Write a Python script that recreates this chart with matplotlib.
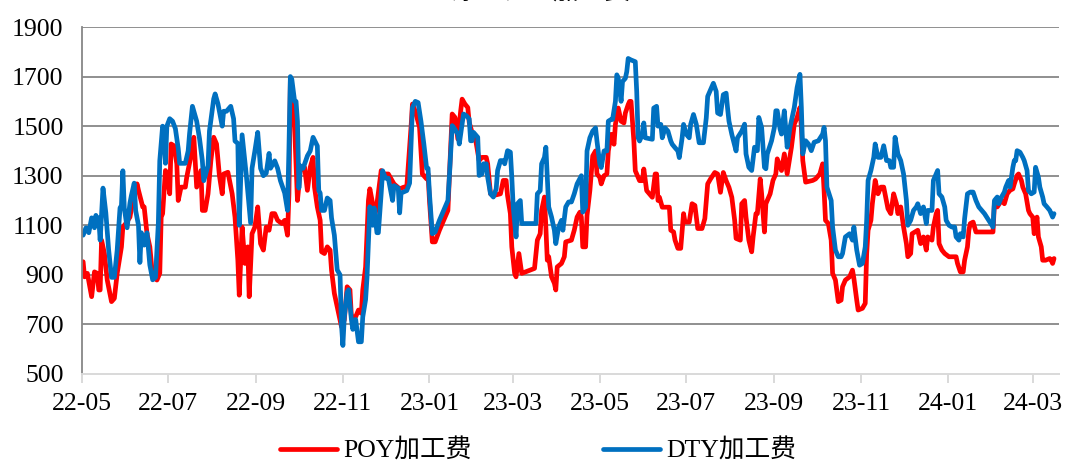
import matplotlib
matplotlib.use("Agg")
import matplotlib.pyplot as plt
import matplotlib.dates as mdates
import pandas as pd

# ---- data -------------------------------------------------------------
title = "涤纶长丝加工费"
series_labels = ["POY加工费", "DTY加工费"]
y_ticks = [500, 700, 900, 1100, 1300, 1500, 1700, 1900]

poy_dates = [
    "22-05-02", "22-05-03", "22-05-05", "22-05-08", "22-05-10", "22-05-12", "22-05-13", "22-05-14",
    "22-05-15", "22-05-17", "22-05-19", "22-05-22", "22-05-24", "22-05-26", "22-05-29", "22-05-30",
    "22-06-01", "22-06-04", "22-06-06", "22-06-09", "22-06-10", "22-06-13", "22-06-14", "22-06-16",
    "22-06-18", "22-06-20", "22-06-23", "22-06-25", "22-06-26", "22-06-27", "22-06-29", "22-06-30",
    "22-07-02", "22-07-03", "22-07-05", "22-07-07", "22-07-08", "22-07-10", "22-07-13", "22-07-14",
    "22-07-17", "22-07-19", "22-07-21", "22-07-24", "22-07-25", "22-07-27", "22-07-29", "22-07-31",
    "22-08-02", "22-08-04", "22-08-06", "22-08-08", "22-08-09", "22-08-12", "22-08-15", "22-08-17",
    "22-08-19", "22-08-20", "22-08-22", "22-08-24", "22-08-26", "22-08-27", "22-08-29", "22-08-31",
    "22-09-02", "22-09-04", "22-09-06", "22-09-08", "22-09-10", "22-09-12", "22-09-14", "22-09-16",
    "22-09-19", "22-09-21", "22-09-23", "22-09-24", "22-09-25", "22-09-27", "22-09-28", "22-09-30",
    "22-10-02", "22-10-04", "22-10-05", "22-10-07", "22-10-09", "22-10-11", "22-10-12", "22-10-14",
    "22-10-16", "22-10-17", "22-10-19", "22-10-21", "22-10-23", "22-10-24", "22-10-26", "22-10-29",
    "22-10-30", "22-10-31", "22-11-02", "22-11-04", "22-11-06", "22-11-07", "22-11-10", "22-11-12",
    "22-11-14", "22-11-15", "22-11-17", "22-11-19", "22-11-20", "22-11-22", "22-11-23", "22-11-25",
    "22-11-28", "22-11-30", "22-12-03", "22-12-07", "22-12-11", "22-12-14", "22-12-16", "22-12-19",
    "22-12-20", "22-12-22", "22-12-25", "22-12-27", "22-12-30", "22-12-31", "23-01-01", "23-01-03",
    "23-01-05", "23-01-08", "23-01-14", "23-01-15", "23-01-17", "23-01-19", "23-01-21", "23-01-23",
    "23-01-24", "23-01-26", "23-01-28", "23-01-29", "23-01-31", "23-02-02", "23-02-05", "23-02-07",
    "23-02-10", "23-02-11", "23-02-13", "23-02-15", "23-02-20", "23-02-22", "23-02-24", "23-02-25",
    "23-02-27", "23-02-28", "23-03-02", "23-03-03", "23-03-05", "23-03-07", "23-03-16", "23-03-18",
    "23-03-20", "23-03-21", "23-03-23", "23-03-24", "23-03-25", "23-03-26", "23-03-28", "23-03-30",
    "23-03-31", "23-04-01", "23-04-04", "23-04-06", "23-04-07", "23-04-11", "23-04-13", "23-04-15",
    "23-04-17", "23-04-18", "23-04-19", "23-04-21", "23-04-22", "23-04-24", "23-04-26", "23-04-28",
    "23-04-29", "23-05-01", "23-05-02", "23-05-04", "23-05-06", "23-05-07", "23-05-09", "23-05-11",
    "23-05-12", "23-05-14", "23-05-16", "23-05-18", "23-05-19", "23-05-21", "23-05-22", "23-05-23",
    "23-05-25", "23-05-26", "23-05-29", "23-05-31", "23-06-01", "23-06-03", "23-06-07", "23-06-09",
    "23-06-10", "23-06-11", "23-06-12", "23-06-14", "23-06-19", "23-06-20", "23-06-22", "23-06-23",
    "23-06-25", "23-06-27", "23-06-29", "23-06-30", "23-07-03", "23-07-05", "23-07-07", "23-07-09",
    "23-07-12", "23-07-14", "23-07-16", "23-07-18", "23-07-21", "23-07-23", "23-07-25", "23-07-27",
    "23-07-29", "23-07-31", "23-08-02", "23-08-04", "23-08-05", "23-08-08", "23-08-09", "23-08-11",
    "23-08-12", "23-08-14", "23-08-16", "23-08-17", "23-08-19", "23-08-20", "23-08-22", "23-08-23",
    "23-08-24", "23-08-25", "23-08-26", "23-08-29", "23-08-31", "23-09-02", "23-09-03", "23-09-06",
    "23-09-08", "23-09-10", "23-09-13", "23-09-15", "23-09-17", "23-09-19", "23-09-20", "23-09-21",
    "23-09-23", "23-09-28", "23-09-30", "23-10-03", "23-10-05", "23-10-06", "23-10-07", "23-10-09",
    "23-10-11", "23-10-12", "23-10-14", "23-10-16", "23-10-18", "23-10-19", "23-10-21", "23-10-24",
    "23-10-26", "23-10-27", "23-10-29", "23-10-30", "23-11-02", "23-11-04", "23-11-05", "23-11-06",
    "23-11-08", "23-11-09", "23-11-11", "23-11-13", "23-11-15", "23-11-17", "23-11-20", "23-11-22",
    "23-11-24", "23-11-26", "23-11-27", "23-11-29", "23-12-01", "23-12-03", "23-12-04", "23-12-06",
    "23-12-07", "23-12-11", "23-12-13", "23-12-15", "23-12-17", "23-12-18", "23-12-21", "23-12-22",
    "23-12-24", "23-12-25", "23-12-26", "23-12-28", "23-12-30", "24-01-02", "24-01-07", "24-01-08",
    "24-01-10", "24-01-12", "24-01-13", "24-01-15", "24-01-16", "24-01-17", "24-01-19", "24-01-21",
    "24-02-02", "24-02-03", "24-02-05", "24-02-08", "24-02-10", "24-02-12", "24-02-14", "24-02-16",
    "24-02-17", "24-02-19", "24-02-20", "24-02-22", "24-02-23", "24-02-25", "24-02-27", "24-02-28",
    "24-03-01", "24-03-02", "24-03-04", "24-03-05", "24-03-07", "24-03-08", "24-03-10", "24-03-13",
    "24-03-14", "24-03-15", "24-03-16",
]
poy_values = [
    953, 892, 906, 812, 912, 906, 839, 839,
    1040, 986, 879, 792, 805, 906, 1013, 1093,
    1107, 1133, 1200, 1267, 1241, 1174, 1174, 1066,
    1013, 892, 879, 906, 1133, 1147, 1321, 1307,
    1227, 1428, 1421, 1348, 1200, 1254, 1254, 1294,
    1381, 1455, 1254, 1321, 1160, 1160, 1227, 1361,
    1455, 1428, 1301, 1227, 1307, 1314, 1227, 1133,
    959, 818, 1093, 946, 1013, 812, 1066, 1093,
    1174, 1026, 1000, 1093, 1080, 1147, 1147, 1120,
    1107, 1120, 1060, 1227, 1683, 1575, 1495, 1200,
    1321, 1334, 1334, 1241, 1334, 1374, 1254, 1174,
    1120, 993, 986, 1013, 1000, 919, 825, 745,
    718, 691, 718, 852, 839, 731, 731, 758,
    745, 839, 932, 1200, 1247, 1187, 1120, 1187,
    1321, 1307, 1307, 1267, 1247, 1254, 1254, 1495,
    1589, 1560, 1495, 1307, 1287, 1307, 1200, 1033,
    1033, 1080, 1160, 1294, 1549, 1535, 1448, 1562,
    1609, 1589, 1575, 1515, 1475, 1462, 1361, 1374,
    1374, 1348, 1227, 1220, 1227, 1281, 1281, 1220,
    1147, 1013, 906, 892, 986, 906, 926, 1040,
    1066, 1160, 1214, 1093, 959, 973, 892, 866,
    839, 932, 946, 973, 1033, 1040, 1080, 1133,
    1153, 1133, 1013, 1013, 1140, 1240, 1380, 1400,
    1307, 1293, 1267, 1300, 1307, 1400, 1467, 1427,
    1507, 1573, 1520, 1513, 1553, 1587, 1600, 1600,
    1440, 1320, 1280, 1280, 1327, 1240, 1213, 1307,
    1307, 1200, 1213, 1173, 1173, 1080, 1073, 1040,
    1007, 1007, 1147, 1113, 1113, 1187, 1180, 1087,
    1087, 1127, 1267, 1287, 1313, 1307, 1233, 1313,
    1280, 1253, 1213, 1120, 1047, 1040, 1187, 1200,
    1133, 1040, 993, 1053, 1147, 1147, 1287, 1227,
    1147, 1073, 1187, 1227, 1281, 1307, 1368, 1321,
    1388, 1307, 1415, 1508, 1535, 1575, 1495, 1361,
    1274, 1281, 1287, 1307, 1348, 1241, 1120, 1107,
    1040, 906, 879, 792, 798, 852, 879, 892,
    919, 886, 798, 758, 765, 785, 986, 1080,
    1120, 1187, 1281, 1227, 1254, 1254, 1167, 1147,
    1227, 1187, 1147, 1174, 1093, 1026, 973, 986,
    1066, 1080, 1026, 1053, 1000, 1053, 1040, 1093,
    1147, 1160, 1026, 1000, 986, 973, 973, 946,
    912, 912, 959, 1013, 1080, 1107, 1113, 1073,
    1073, 1187, 1174, 1200, 1187, 1227, 1241, 1247,
    1267, 1301, 1307, 1281, 1254, 1227, 1160, 1147,
    1133, 1066, 1133, 1053, 1013, 959, 959, 966,
    959, 946, 966,
]

dty_dates = [
    "22-05-02", "22-05-04", "22-05-06", "22-05-08", "22-05-10", "22-05-11", "22-05-12", "22-05-13",
    "22-05-14", "22-05-16", "22-05-18", "22-05-20", "22-05-22", "22-05-24", "22-05-26", "22-05-28",
    "22-05-29", "22-05-30", "22-05-31", "22-06-02", "22-06-04", "22-06-05", "22-06-07", "22-06-08",
    "22-06-10", "22-06-11", "22-06-12", "22-06-14", "22-06-16", "22-06-18", "22-06-20", "22-06-22",
    "22-06-24", "22-06-25", "22-06-27", "22-06-28", "22-06-29", "22-06-30", "22-07-02", "22-07-04",
    "22-07-06", "22-07-08", "22-07-09", "22-07-13", "22-07-15", "22-07-16", "22-07-18", "22-07-21",
    "22-07-23", "22-07-25", "22-07-26", "22-07-29", "22-07-30", "22-08-02", "22-08-03", "22-08-05",
    "22-08-08", "22-08-09", "22-08-11", "22-08-14", "22-08-16", "22-08-17", "22-08-19", "22-08-20",
    "22-08-22", "22-08-25", "22-08-28", "22-08-29", "22-08-31", "22-09-02", "22-09-04", "22-09-06",
    "22-09-08", "22-09-10", "22-09-11", "22-09-14", "22-09-16", "22-09-18", "22-09-21", "22-09-23",
    "22-09-24", "22-09-25", "22-09-26", "22-09-28", "22-09-29", "22-09-30", "22-10-01", "22-10-02",
    "22-10-04", "22-10-07", "22-10-09", "22-10-11", "22-10-14", "22-10-15", "22-10-16", "22-10-17",
    "22-10-19", "22-10-21", "22-10-23", "22-10-24", "22-10-26", "22-10-28", "22-10-30", "22-10-31",
    "22-11-01", "22-11-02", "22-11-04", "22-11-05", "22-11-07", "22-11-08", "22-11-10", "22-11-12",
    "22-11-14", "22-11-15", "22-11-17", "22-11-18", "22-11-20", "22-11-22", "22-11-23", "22-11-25",
    "22-11-26", "22-11-28", "22-11-29", "22-12-01", "22-12-03", "22-12-06", "22-12-07", "22-12-10",
    "22-12-11", "22-12-12", "22-12-16", "22-12-18", "22-12-19", "22-12-20", "22-12-22", "22-12-24",
    "22-12-26", "22-12-28", "22-12-30", "22-12-31", "23-01-01", "23-01-03", "23-01-05", "23-01-08",
    "23-01-12", "23-01-14", "23-01-15", "23-01-17", "23-01-18", "23-01-21", "23-01-22", "23-01-23",
    "23-01-25", "23-01-27", "23-01-29", "23-01-30", "23-01-31", "23-02-01", "23-02-04", "23-02-05",
    "23-02-07", "23-02-08", "23-02-10", "23-02-11", "23-02-13", "23-02-15", "23-02-17", "23-02-18",
    "23-02-20", "23-02-22", "23-02-23", "23-02-25", "23-02-27", "23-02-28", "23-03-01", "23-03-03",
    "23-03-04", "23-03-06", "23-03-07", "23-03-17", "23-03-18", "23-03-20", "23-03-21", "23-03-23",
    "23-03-24", "23-03-25", "23-03-26", "23-03-28", "23-03-30", "23-03-31", "23-04-02", "23-04-04",
    "23-04-05", "23-04-07", "23-04-09", "23-04-11", "23-04-13", "23-04-15", "23-04-18", "23-04-19",
    "23-04-21", "23-04-22", "23-04-24", "23-04-26", "23-04-28", "23-04-29", "23-05-01", "23-05-02",
    "23-05-04", "23-05-06", "23-05-07", "23-05-09", "23-05-10", "23-05-12", "23-05-13", "23-05-14",
    "23-05-16", "23-05-17", "23-05-19", "23-05-20", "23-05-21", "23-05-23", "23-05-26", "23-05-27",
    "23-05-28", "23-05-29", "23-05-31", "23-06-01", "23-06-02", "23-06-07", "23-06-08", "23-06-10",
    "23-06-11", "23-06-13", "23-06-14", "23-06-16", "23-06-18", "23-06-20", "23-06-21", "23-06-23",
    "23-06-25", "23-06-26", "23-06-28", "23-06-29", "23-07-01", "23-07-03", "23-07-04", "23-07-06",
    "23-07-08", "23-07-10", "23-07-13", "23-07-15", "23-07-16", "23-07-18", "23-07-20", "23-07-22",
    "23-07-23", "23-07-25", "23-07-27", "23-07-29", "23-07-30", "23-07-31", "23-08-02", "23-08-05",
    "23-08-06", "23-08-09", "23-08-11", "23-08-12", "23-08-14", "23-08-16", "23-08-18", "23-08-20",
    "23-08-21", "23-08-23", "23-08-25", "23-08-26", "23-08-27", "23-08-30", "23-09-01", "23-09-02",
    "23-09-03", "23-09-05", "23-09-06", "23-09-08", "23-09-10", "23-09-12", "23-09-15", "23-09-17",
    "23-09-19", "23-09-20", "23-09-21", "23-09-23", "23-09-25", "23-09-27", "23-09-29", "23-10-02",
    "23-10-05", "23-10-06", "23-10-07", "23-10-08", "23-10-11", "23-10-12", "23-10-14", "23-10-16",
    "23-10-18", "23-10-19", "23-10-21", "23-10-24", "23-10-26", "23-10-27", "23-10-29", "23-10-31",
    "23-11-02", "23-11-04", "23-11-05", "23-11-06", "23-11-08", "23-11-10", "23-11-11", "23-11-13",
    "23-11-15", "23-11-17", "23-11-19", "23-11-21", "23-11-22", "23-11-24", "23-11-25", "23-11-27",
    "23-11-29", "23-12-01", "23-12-03", "23-12-04", "23-12-06", "23-12-08", "23-12-10", "23-12-11",
    "23-12-13", "23-12-15", "23-12-17", "23-12-18", "23-12-21", "23-12-22", "23-12-24", "23-12-25",
    "23-12-26", "23-12-28", "23-12-30", "23-12-31", "24-01-02", "24-01-04", "24-01-06", "24-01-07",
    "24-01-09", "24-01-10", "24-01-12", "24-01-13", "24-01-15", "24-01-17", "24-01-19", "24-01-21",
    "24-01-23", "24-01-27", "24-01-30", "24-02-02", "24-02-03", "24-02-05", "24-02-06", "24-02-08",
    "24-02-10", "24-02-11", "24-02-13", "24-02-14", "24-02-16", "24-02-17", "24-02-18", "24-02-19",
    "24-02-21", "24-02-23", "24-02-24", "24-02-26", "24-02-27", "24-02-29", "24-03-02", "24-03-03",
    "24-03-05", "24-03-06", "24-03-08", "24-03-09", "24-03-11", "24-03-13", "24-03-14", "24-03-15",
    "24-03-16",
]
dty_values = [
    1060, 1090, 1070, 1130, 1090, 1140, 1100, 1130,
    1040, 1250, 1150, 1000, 890, 890, 1000, 1170,
    1180, 1320, 1170, 1090, 1190, 1220, 1270, 1160,
    1100, 950, 1070, 1020, 1070, 940, 880, 890,
    1110, 1360, 1500, 1490, 1350, 1500, 1530, 1520,
    1490, 1410, 1350, 1350, 1400, 1470, 1580, 1520,
    1450, 1360, 1280, 1340, 1480, 1610, 1630, 1590,
    1500, 1560, 1560, 1580, 1530, 1440, 1430, 1100,
    1465, 1300, 1110, 1330, 1400, 1475, 1330, 1300,
    1310, 1390, 1330, 1360, 1330, 1280, 1230, 1160,
    1410, 1700, 1690, 1600, 1600, 1520, 1250, 1340,
    1330, 1380, 1400, 1455, 1420, 1240, 1230, 1160,
    1160, 1210, 1200, 1130, 1060, 920, 900, 700,
    615, 730, 830, 840, 720, 680, 720, 630,
    630, 730, 800, 890, 1175, 1100, 1170, 1070,
    1070, 1230, 1320, 1290, 1290, 1200, 1260, 1250,
    1150, 1230, 1240, 1270, 1420, 1575, 1600, 1595,
    1520, 1430, 1330, 1330, 1227, 1066, 1073, 1120,
    1174, 1200, 1294, 1502, 1495, 1468, 1428, 1468,
    1549, 1542, 1529, 1441, 1441, 1475, 1455, 1301,
    1307, 1348, 1348, 1294, 1227, 1214, 1247, 1321,
    1361, 1361, 1348, 1401, 1395, 1294, 1174, 1053,
    1187, 1200, 1107, 1107, 1227, 1240, 1348, 1374,
    1415, 1294, 1174, 1133, 1080, 1026, 1093, 1120,
    1080, 1174, 1194, 1194, 1227, 1267, 1300, 1153,
    1173, 1400, 1453, 1480, 1493, 1440, 1347, 1333,
    1400, 1400, 1520, 1527, 1527, 1600, 1707, 1693,
    1600, 1680, 1693, 1720, 1773, 1767, 1760, 1640,
    1453, 1440, 1467, 1513, 1453, 1447, 1573, 1580,
    1500, 1507, 1453, 1493, 1480, 1440, 1427, 1413,
    1400, 1373, 1453, 1507, 1467, 1453, 1507, 1547,
    1507, 1433, 1433, 1533, 1620, 1647, 1673, 1640,
    1553, 1547, 1627, 1633, 1573, 1520, 1467, 1400,
    1453, 1480, 1508, 1388, 1334, 1321, 1415, 1401,
    1535, 1495, 1334, 1328, 1388, 1441, 1495, 1562,
    1562, 1488, 1468, 1562, 1415, 1495, 1575, 1656,
    1709, 1575, 1388, 1441, 1428, 1401, 1435, 1441,
    1468, 1495, 1441, 1254, 1200, 1093, 1000, 973,
    973, 986, 1053, 1066, 1040, 1093, 1000, 939,
    946, 1013, 1120, 1281, 1321, 1374, 1428, 1374,
    1374, 1421, 1361, 1361, 1334, 1334, 1455, 1388,
    1361, 1307, 1200, 1100, 1120, 1160, 1174, 1187,
    1147, 1174, 1107, 1160, 1160, 1281, 1307, 1321,
    1227, 1214, 1174, 1120, 1100, 1093, 1093, 1053,
    1040, 1066, 1053, 1127, 1227, 1234, 1234, 1200,
    1174, 1147, 1120, 1093, 1200, 1214, 1187, 1214,
    1234, 1254, 1281, 1254, 1334, 1361, 1361, 1401,
    1395, 1374, 1361, 1321, 1240, 1227, 1234, 1334,
    1294, 1254, 1214, 1187, 1174, 1160, 1147, 1133,
    1147,
]

# ---- figure -----------------------------------------------------------
W, H = 1066, 463
plt.rcParams["font.family"] = ["Liberation Serif", "Noto Sans CJK SC"]
plt.rcParams["font.size"] = 18.5

fig = plt.figure(figsize=(W / 100, H / 100), dpi=100)
ax = fig.add_axes([81.7 / W, 89 / H, (1059 - 81.7) / W, (436 - 89) / H])

poy_x = pd.to_datetime(poy_dates, format="%y-%m-%d")
dty_x = pd.to_datetime(dty_dates, format="%y-%m-%d")

line_kw = dict(lw=3.4, solid_joinstyle="round", solid_capstyle="round")
h_poy, = ax.plot(poy_x, poy_values, color="#FF0000", label=series_labels[0], **line_kw)
h_dty, = ax.plot(dty_x, dty_values, color="#0070C0", label=series_labels[1], **line_kw)

ax.set_ylim(y_ticks[0], y_ticks[-1])
ax.set_yticks(y_ticks)
ax.set_xlim(pd.Timestamp("2022-05-01"), pd.Timestamp("2024-03-19 12:00"))
ax.xaxis.set_major_locator(mdates.MonthLocator(bymonth=[1, 3, 5, 7, 9, 11]))
ax.xaxis.set_major_formatter(mdates.DateFormatter("%y-%m"))

ax.set_axisbelow(True)
ax.yaxis.grid(True, color="#878787", lw=1.3)
ax.get_ygridlines()[0].set_visible(False)

for side in ("top", "right"):
    ax.spines[side].set_visible(False)
ax.spines["left"].set_color("#878787")
ax.spines["left"].set_linewidth(1.3)
ax.spines["bottom"].set_color("#d9d9d9")
ax.spines["bottom"].set_linewidth(1.4)

ax.tick_params(axis="y", length=0, pad=13)
ax.tick_params(axis="x", length=6.5, width=1.4, color="#d9d9d9", pad=7, direction="out")

# title (sits at the very top edge of the canvas)
fig.text(541 / W, 1 + 1.5 / H, title, ha="center", va="baseline", fontsize=18.5)

leg = fig.legend(handles=[h_poy, h_dty], labels=series_labels, loc="center",
                 bbox_to_anchor=(538.5 / W, 12.5 / H), ncol=2, frameon=False,
                 handlelength=2.2, handletextpad=0.27, columnspacing=5.1,
                 borderaxespad=0, borderpad=0)
for ln in leg.get_lines():
    ln.set_linewidth(3.4)
    ln.set_solid_capstyle("round")

fig.savefig("out.png", dpi=100)
